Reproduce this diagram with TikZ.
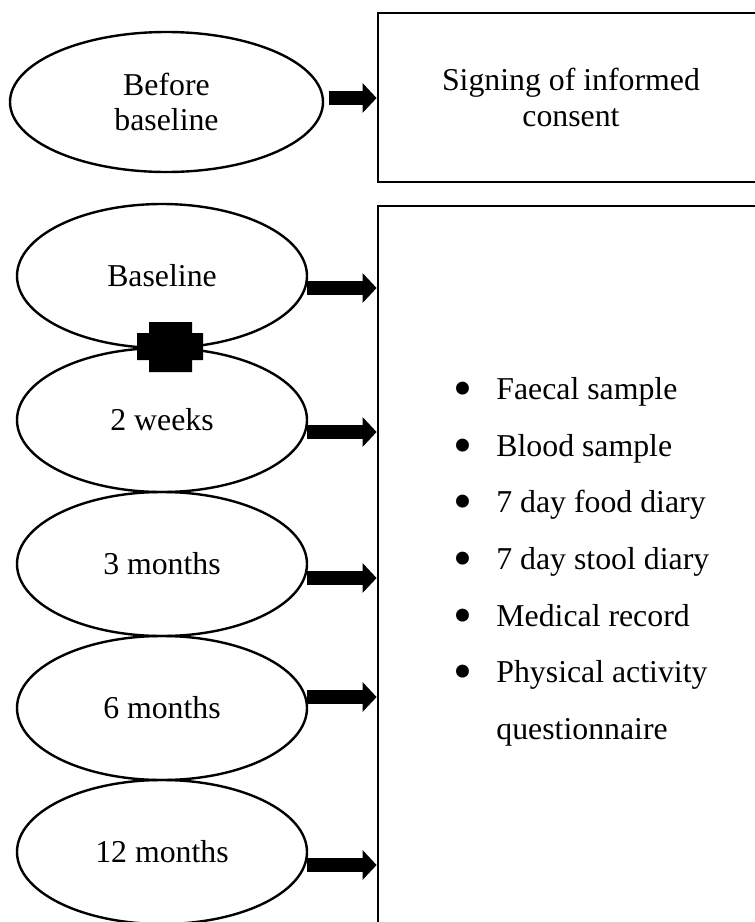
\documentclass[tikz,border=0pt]{standalone}
\usepackage{fontspec}
\setmainfont{Liberation Serif}
\usepackage{tikz}
\usetikzlibrary{arrows.meta,positioning,shapes.geometric}
\newcommand{\itembullet}{\makebox[21.5pt][l]{\raisebox{-0.22em}{\scalebox{1.7}{\textbullet}}}}

\begin{document}
\begin{tikzpicture}[
  x=0.5pt, y=-0.5pt,
  font=\fontsize{15.9}{17.5}\selectfont,
  stage/.style={draw, ellipse, line width=1.2pt, inner sep=0pt, outer sep=0pt,
    align=center, minimum width=145pt, minimum height=72pt},
  panel/.style={draw, line width=1.4pt, inner sep=0pt, align=center},
  blk/.style={line width=7pt, -{Triangle[length=7pt, width=14.5pt]}}
]
\useasboundingbox (0,0) rectangle (755,922);
\clip (0,0) rectangle (755,922);
\node[stage, minimum width=156.5pt, minimum height=70pt] (pre) at (166.5,102) {Before\\baseline};
\node[stage] (base) at (162,276) {Baseline};
\node[stage, below=0pt of base] (wk2) {2 weeks};
\node[stage, below=0pt of wk2] (mo3) {3 months};
\node[stage, below=0pt of mo3] (mo6) {6 months};
\node[stage, below=0pt of mo6] (mo12) {12 months};
\node[panel, minimum width=193pt, minimum height=84.5pt, font=\fontsize{15.9}{18}\selectfont] (consent) at (571,97.5) {Signing of informed\\consent};
\node[panel, minimum width=193pt, minimum height=367pt] (data) at (571,573) {};
\node[anchor=north west, inner sep=0pt, align=left,
  font=\fontsize{15.9}{28.35}\selectfont] (items) at (453,377) {%
  \itembullet Faecal sample\\
  \itembullet Blood sample\\
  \itembullet 7 day food diary\\
  \itembullet 7 day stool diary\\
  \itembullet Medical record\\
  \itembullet Physical activity\\
  \hspace*{21.5pt}questionnaire};
% block between baseline and 2 weeks
\fill (149,322) -| (192,333) -| (203,360) -| (192,372) -| (149,360) -| (137,333) -| (149,322) -- cycle;
\coordinate (s0) at ([shift={(6,-4)}]pre.east);
\coordinate (s1) at ([shift={(0,12)}]base.east);
\coordinate (s2) at ([shift={(0,12)}]wk2.east);
\coordinate (s3) at ([shift={(0,14)}]mo3.east);
\coordinate (s4) at ([shift={(0,-11)}]mo6.east);
\coordinate (s5) at ([shift={(0,13)}]mo12.east);
\draw[blk] (s0) -- (s0 -| consent.west);
\draw[blk] (s1) -- (s1 -| data.west);
\draw[blk] (s2) -- (s2 -| data.west);
\draw[blk] (s3) -- (s3 -| data.west);
\draw[blk] (s4) -- (s4 -| data.west);
\draw[blk] (s5) -- (s5 -| data.west);
\end{tikzpicture}
\end{document}
